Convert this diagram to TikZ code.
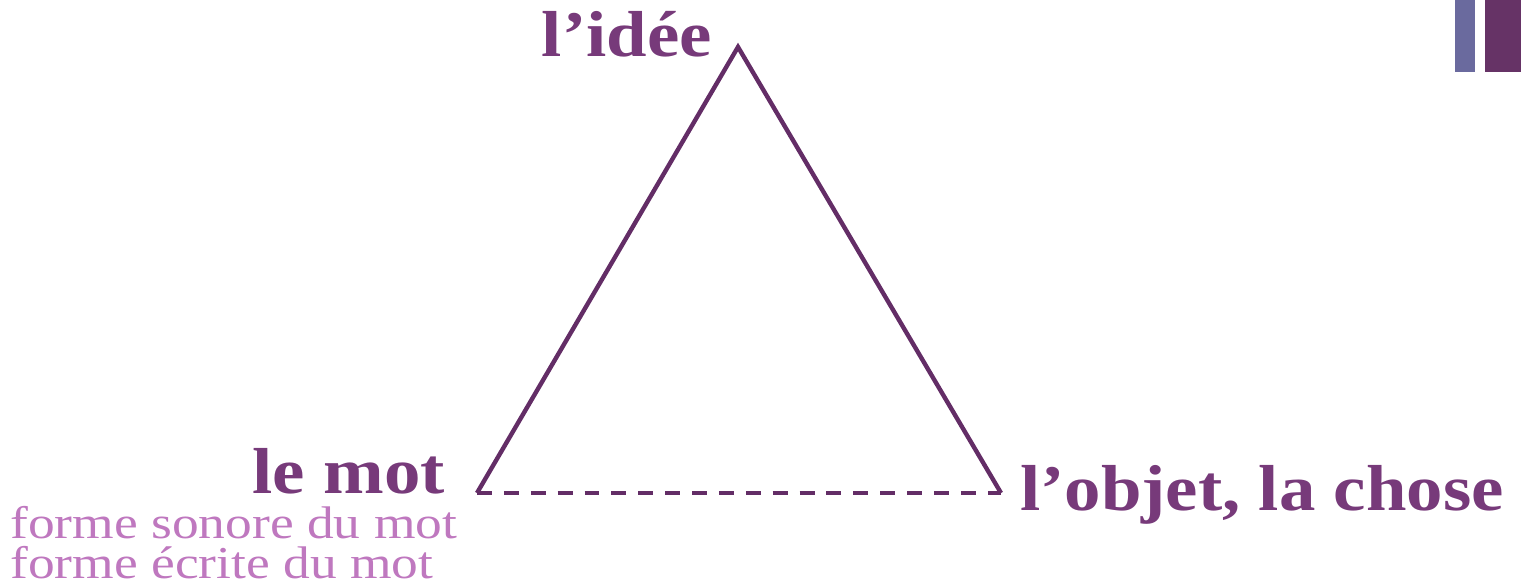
\documentclass[tikz,border=0pt]{standalone}
\usepackage{fontspec}
\setmainfont{Liberation Serif}
\newfontfamily\termfont[FakeStretch=1.12]{Liberation Serif}
\newfontfamily\glossfont[FakeStretch=1.17]{Liberation Serif}
\usetikzlibrary{positioning}
\definecolor{plum}{HTML}{773A7A}
\definecolor{lineplum}{HTML}{632D66}
\definecolor{lilac}{HTML}{BF78BF}
\definecolor{barblue}{HTML}{6A6A9E}
\definecolor{barplum}{HTML}{663366}
\tikzset{
  sideline/.style={line width=2.5pt, draw=lineplum},
  dashline/.style={sideline, dash pattern=on 8.5pt off 6.8pt},
  term/.style={font=\termfont\fontsize{37}{40}\selectfont\bfseries, text=plum, inner sep=0pt},
  gloss/.style={font=\glossfont\fontsize{26}{21}\selectfont, text=lilac, inner sep=0pt, text height=0.68em, text depth=0pt}
}

\begin{document}
\begin{tikzpicture}[x=0.02cm, y=-0.02cm]
  \useasboundingbox (0,0) rectangle (1521,587);
  % corner bars
  \fill[barblue] (1455,0) rectangle (1475,72);
  \fill[barplum] (1485,0) rectangle (1521,72);
  % triangle corners
  \coordinate (apex) at (738,47);
  \coordinate (left) at (477,493);
  \coordinate (right) at (1001,493);
  \draw[sideline, line join=miter] (left) -- (apex) -- (right);
  \draw[dashline] (left) -- (right);
  % labels
  \node[term, anchor=base east] (idee) at (712,57) {l’idée};
  \node[term, anchor=base east] (mot) at (445,493) {le mot};
  \node[term, anchor=base west] (objet) at (1020,510) {l’objet, la chose};
  \node[gloss, anchor=base west] (sonore) at (10,538) {forme sonore du mot};
  \node[gloss, anchor=base west] (ecrite) at (10,578) {forme écrite du mot};
\end{tikzpicture}
\end{document}
